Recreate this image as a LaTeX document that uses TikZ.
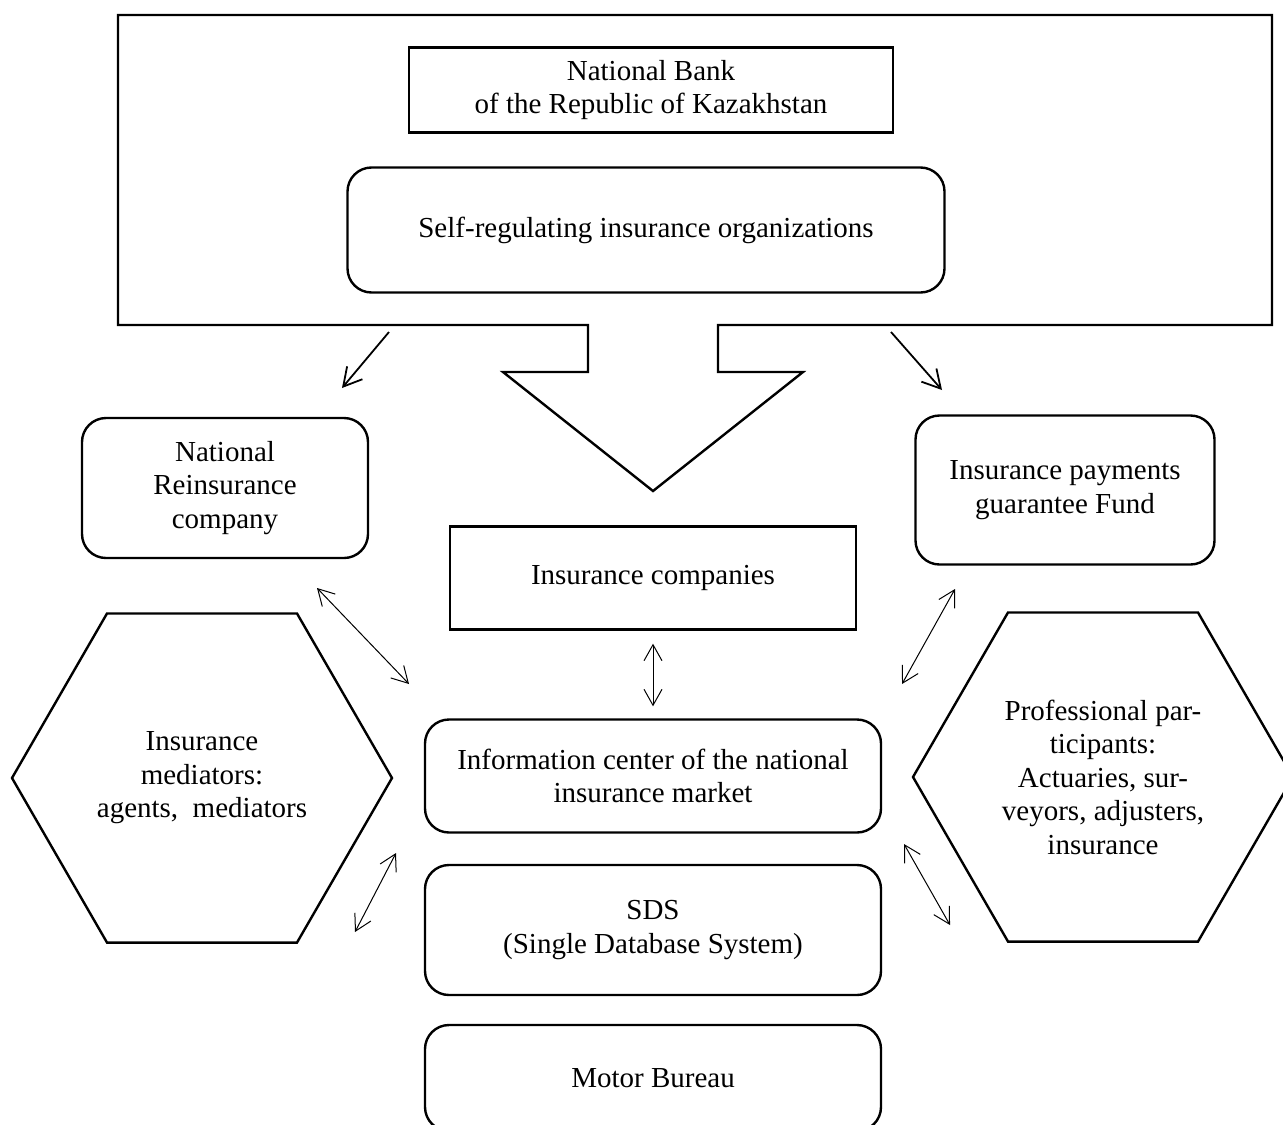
\documentclass[tikz,border=0pt]{standalone}
\usepackage{fontspec}
\setmainfont{Liberation Serif}
\usetikzlibrary{shapes, arrows.meta}

\begin{document}
\begin{tikzpicture}[x=0.5pt,y=-0.5pt,>={Straight Barb[length=8pt,width=9pt]}]
\tikzstyle{every node}=[font=\fontsize{14.5}{16.75}\selectfont, align=center, inner sep=0pt]
\tikzstyle{plainbox}=[rectangle, draw, line width=1.2pt]
\tikzstyle{roundbox}=[rectangle, draw, rounded corners=12pt, line width=1.2pt]
\tikzstyle{hexbox}=[regular polygon, regular polygon sides=6, minimum size=190pt, draw, line width=1.2pt]
\tikzstyle{link}=[<->, line width=0.5pt]
\tikzstyle{down}=[->, line width=0.9pt, >={Straight Barb[length=9pt,width=10pt]}]
\useasboundingbox (0,0) rectangle (1283,1124);
% frame round the regulators, with the big arrow
\draw[line width=1.2pt] (118,15) -- (1272,15) -- (1272,325) -- (718,325) -- (718,372) -- (803,372) -- (653,491) -- (503,372) -- (588,372) -- (588,325) -- (118,325) -- cycle;
\node[plainbox, minimum width=242pt, minimum height=42.5pt] (bank) at (651,90) {National Bank\\of the Republic of Kazakhstan};
\node[roundbox, minimum width=298.5pt, minimum height=62.5pt] (sro) at (646,230) {Self-regulating insurance organizations};
\node[roundbox, minimum width=143pt, minimum height=70pt] (reins) at (225,488) {National\\Reinsurance\\company};
\node[roundbox, minimum width=149.5pt, minimum height=74.5pt] (fund) at (1065,490) {Insurance payments\\guarantee Fund};
\node[plainbox, minimum width=203pt, minimum height=51.5pt] (comp) at (653,578) {Insurance companies};
\node[roundbox, minimum width=228pt, minimum height=56.5pt] (info) at (653,776) {Information center of the national\\insurance market};
\node[roundbox, minimum width=228pt, minimum height=65pt] (sds) at (653,930) {SDS\\(Single Database System)};
\node[roundbox, minimum width=228pt, minimum height=53pt] (motor) at (653,1078) {Motor Bureau};
\node[hexbox] (mediators) at (202,778) {Insurance\\mediators:\\agents,~ mediators};
\node[hexbox] (profs) at (1103,777) {Professional par-\\ticipants:\\Actuaries, sur-\\veyors, adjusters,\\insurance};
% arrow ends
\coordinate (frameL) at (389,332);
\coordinate (reinsTop) at (342,388);
\coordinate (frameR) at (891,332);
\coordinate (fundTop) at (942,390);
\coordinate (reinsOut) at (317,588);
\coordinate (infoNW) at (409,684);
\coordinate (fundOut) at (955,589);
\coordinate (infoNE) at (902,684);
\coordinate (infoSW) at (396,853);
\coordinate (medOut) at (355,932);
\coordinate (infoSE) at (904,844);
\coordinate (profOut) at (950,925);
\draw[down] (frameL) -- (reinsTop);
\draw[down] (frameR) -- (fundTop);
\draw[link] (reinsOut) -- (infoNW);
\draw[link, shorten <=6.5pt, shorten >=6pt] (comp) -- (info);
\draw[link] (fundOut) -- (infoNE);
\draw[link] (infoSW) -- (medOut);
\draw[link] (infoSE) -- (profOut);
\end{tikzpicture}
\end{document}
